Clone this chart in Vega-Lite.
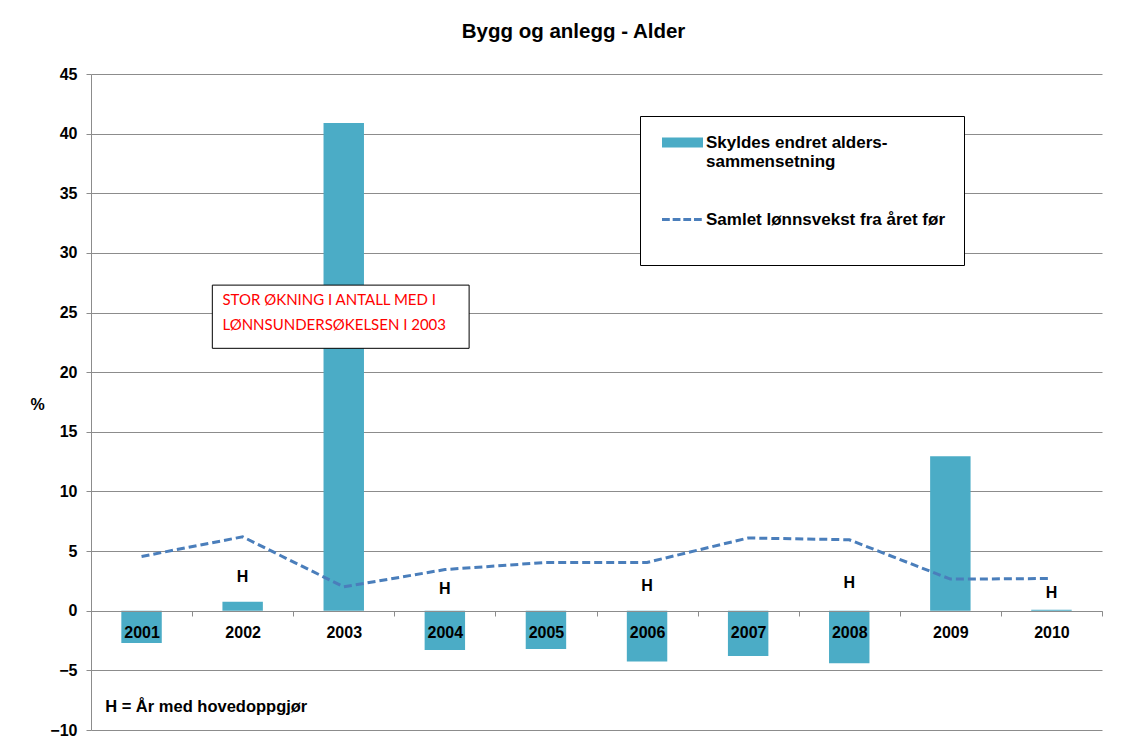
{
  "$schema": "https://vega.github.io/schema/vega-lite/v6.json",
  "width": 1011,
  "height": 656,
  "autosize": {"type": "none"},
  "padding": {"left": 91, "top": 74, "right": 27, "bottom": 12},
  "background": "#ffffff",
  "title": {"text": "Bygg og anlegg - Alder", "font": "Liberation Sans", "fontSize": 20.5, "fontWeight": "bold", "color": "#000000", "anchor": "middle", "dx": -23, "offset": 24},
  "config": {"view": {"stroke": null}},
  "datasets": {
    "main": [
      {"year": "2001", "bar": -2.7, "line": 4.55},
      {"year": "2002", "bar": 0.75, "line": 6.2},
      {"year": "2003", "bar": 40.9, "line": 2.0},
      {"year": "2004", "bar": -3.3, "line": 3.45},
      {"year": "2005", "bar": -3.2, "line": 4.05},
      {"year": "2006", "bar": -4.25, "line": 4.05},
      {"year": "2007", "bar": -3.8, "line": 6.1},
      {"year": "2008", "bar": -4.4, "line": 5.95},
      {"year": "2009", "bar": 12.95, "line": 2.65},
      {"year": "2010", "bar": 0.08, "line": 2.7}
    ],
    "h": [
      {"year": "2002", "y": 2.85, "label": "H"},
      {"year": "2004", "y": 1.82, "label": "H"},
      {"year": "2006", "y": 2.04, "label": "H"},
      {"year": "2008", "y": 2.32, "label": "H"},
      {"year": "2010", "y": 1.48, "label": "H"}
    ],
    "box": [
      {"x": 1.2, "x2": 3.74, "y": 22.0, "y2": 27.3}
    ],
    "boxtext": [
      {"x": 1.3, "y": 26.07, "label": "STOR ØKNING I ANTALL MED I"},
      {"x": 1.3, "y": 23.97, "label": "LØNNSUNDERSØKELSEN I 2003"}
    ],
    "note": [
      {"x": 0.14, "y": -8.05, "label": "H = År med hovedoppgjør"}
    ]
  },
  "resolve": {"scale": {"x": "independent"}},
  "layer": [
    {
      "layer": [
        {
          "data": {"name": "main"},
          "mark": {"type": "bar", "width": {"band": 0.4}},
          "encoding": {
            "x": {
              "field": "year", "type": "nominal",
              "scale": {"paddingInner": 0, "paddingOuter": 0},
              "axis": {
                "title": null, "orient": "bottom", "offset": -119, "tickBand": "extent",
                "labelAngle": 0, "labelFont": "Liberation Sans", "labelFontSize": 16, "labelFontWeight": "bold",
                "labelColor": "#000000", "labelPadding": 8, "domainColor": "#8c8c8c", "tickColor": "#8c8c8c",
                "tickSize": 5, "grid": false, "zindex": 1
              }
            },
            "y": {
              "field": "bar", "type": "quantitative",
              "scale": {"domain": [-10, 45], "nice": false, "zero": false},
              "axis": {
                "title": "%", "titleAngle": 0, "titleX": -54, "titleY": 330, "titleAlign": "center", "titleBaseline": "middle",
                "titleFont": "Liberation Sans", "titleFontSize": 16, "titleFontWeight": "bold", "titleColor": "#000000",
                "values": [-10, -5, 0, 5, 10, 15, 20, 25, 30, 35, 40, 45],
                "labelFont": "Liberation Sans", "labelFontSize": 16, "labelFontWeight": "bold", "labelColor": "#000000",
                "labelPadding": 9, "tickSize": 5, "tickColor": "#8c8c8c", "domainColor": "#8c8c8c",
                "grid": true, "gridColor": "#8c8c8c", "gridWidth": 1
              }
            },
            "color": {
              "datum": "Skyldes endret alders-sammensetning",
              "scale": {"domain": ["Skyldes endret alders-sammensetning", "Samlet lønnsvekst fra året før"], "range": ["#4bacc6", "#4a7ebb"]},
              "legend": {
                "orient": "none", "legendX": 549, "legendY": 42, "title": null,
                "padding": 18, "strokeColor": "#000000", "fillColor": "#ffffff",
                "labelFont": "Liberation Sans", "labelFontSize": 17, "labelFontWeight": "bold", "labelColor": "#000000",
                "labelLimit": 400, "labelOffset": 15, "symbolOffset": 16, "symbolSize": 1681, "rowPadding": 40,
                "labelExpr": "datum.label == 'Skyldes endret alders-sammensetning' ? ['Skyldes endret alders-', 'sammensetning'] : [datum.label, '']",
                "encode": {
                  "symbols": {
                    "update": {
                      "size": {"value": 1681},
                      "shape": {"signal": "datum.value == 'Samlet lønnsvekst fra året før' ? 'M-1,0H-0.62M-0.48,0H-0.1M0.04,0H0.42M0.56,0H0.94' : 'M-1,-0.24H1V0.24H-1Z'"},
                      "strokeWidth": {"signal": "datum.value == 'Samlet lønnsvekst fra året før' ? 3 : 0"},
                      "fillOpacity": {"signal": "datum.value == 'Samlet lønnsvekst fra året før' ? 0 : 1"}
                    }
                  }
                }
              }
            }
          }
        },
        {
          "data": {"name": "main"},
          "mark": {"type": "line", "strokeDash": [8, 4], "strokeWidth": 3},
          "encoding": {
            "x": {"field": "year", "type": "nominal"},
            "y": {"field": "line", "type": "quantitative"},
            "color": {"datum": "Samlet lønnsvekst fra året før"}
          }
        },
        {
          "data": {"name": "h"},
          "mark": {"type": "text", "font": "Liberation Sans", "fontSize": 16, "fontWeight": "bold", "color": "#000000", "baseline": "middle", "align": "center"},
          "encoding": {
            "x": {"field": "year", "type": "nominal"},
            "y": {"field": "y", "type": "quantitative"},
            "text": {"field": "label"}
          }
        }
      ]
    },
    {
      "data": {"name": "box"},
      "mark": {"type": "rect", "fill": "#ffffff", "stroke": "#000000", "strokeWidth": 1},
      "encoding": {
        "x": {"field": "x", "type": "quantitative", "scale": {"domain": [0, 10], "nice": false, "zero": false}, "axis": null},
        "x2": {"field": "x2"},
        "y": {"field": "y", "type": "quantitative"},
        "y2": {"field": "y2"}
      }
    },
    {
      "data": {"name": "boxtext"},
      "mark": {"type": "text", "font": "Lato", "fontSize": 15, "color": "#ff0000", "align": "left", "baseline": "middle"},
      "encoding": {
        "x": {"field": "x", "type": "quantitative", "scale": {"domain": [0, 10], "nice": false, "zero": false}, "axis": null},
        "y": {"field": "y", "type": "quantitative"},
        "text": {"field": "label"}
      }
    },
    {
      "data": {"name": "note"},
      "mark": {"type": "text", "font": "Liberation Sans", "fontSize": 16.5, "fontWeight": "bold", "color": "#000000", "align": "left", "baseline": "middle"},
      "encoding": {
        "x": {"field": "x", "type": "quantitative", "scale": {"domain": [0, 10], "nice": false, "zero": false}, "axis": null},
        "y": {"field": "y", "type": "quantitative"},
        "text": {"field": "label"}
      }
    }
  ]
}
